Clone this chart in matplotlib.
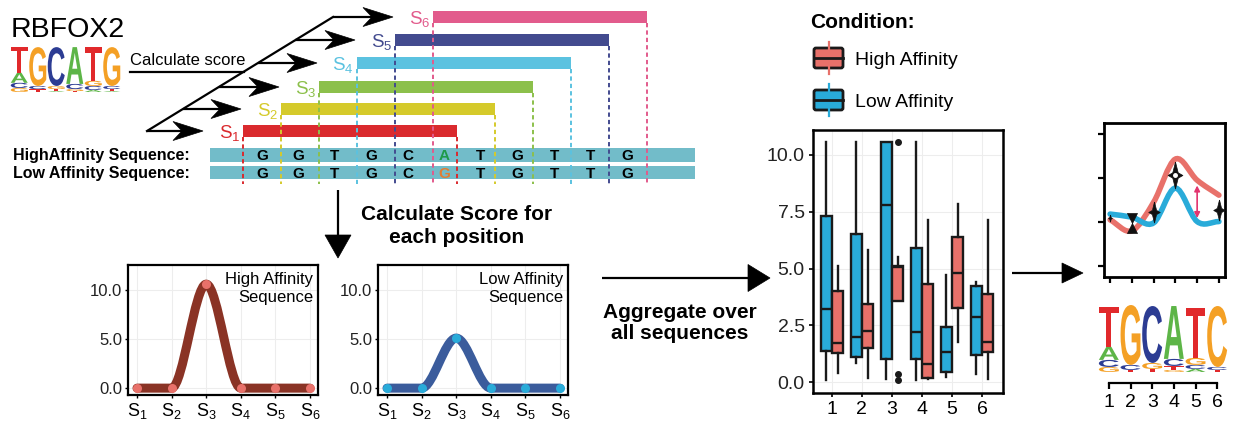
import numpy as np
import matplotlib
matplotlib.use('Agg')
import matplotlib.pyplot as plt
from matplotlib.path import Path
from matplotlib.patches import PathPatch, Rectangle, Polygon, FancyBboxPatch
from matplotlib.textpath import TextPath
from matplotlib.font_manager import FontProperties
from matplotlib.transforms import Affine2D

plt.rcParams['font.family'] = ['Liberation Sans', 'DejaVu Sans']
plt.rcParams['mathtext.fontset'] = 'custom'
plt.rcParams['mathtext.rm'] = 'Liberation Sans'
plt.rcParams['mathtext.it'] = 'Liberation Sans:italic'
plt.rcParams['mathtext.bf'] = 'Liberation Sans:bold'

W, H = 1233, 425

# --- data -------------------------------------------------------------
seq_high = 'GGTGCATGTTG'
seq_low = 'GGTGCGTGTTG'
snp_index = 5
window_names = ['S1', 'S2', 'S3', 'S4', 'S5', 'S6']
window_pos = [1, 2, 3, 4, 5, 6]

# score of each window for one example sequence
high_scores = [0.0, 0.0, 10.6, 0.0, 0.0, 0.0]
low_scores = [0.0, 0.0, 5.1, 0.0, 0.0, 0.0]

# aggregated scores over all sequences (box statistics per window)
groups = [1, 2, 3, 4, 5, 6]
low_whislo = [0.09, 0.85, 0.12, 0.09, 0.21, 0.35]
low_q1 = [1.38, 1.11, 1.03, 1.00, 0.46, 1.19]
low_med = [3.23, 1.97, 7.81, 2.22, 1.34, 2.88]
low_q3 = [7.33, 6.52, 10.57, 5.92, 2.41, 4.25]
low_whishi = [10.55, 10.55, 10.57, 10.55, 4.71, 4.39]
high_whislo = [0.38, 0.16, 3.58, 0.12, 1.78, 0.12]
high_q1 = [1.26, 1.48, 3.58, 0.19, 3.28, 1.31]
high_med = [1.70, 2.23, 5.08, 0.78, 4.82, 1.78]
high_q3 = [4.02, 3.44, 5.12, 4.30, 6.37, 3.86]
high_whishi = [5.12, 5.81, 5.52, 7.14, 7.84, 7.14]
high_fliers = [[], [], [10.57, 0.35, 0.09], [], [], []]

# summary profile along the motif
profile_x = [1, 2, 3, 4, 5, 6]
high_profile = [1.05, 0.80, 1.45, 2.43, 1.95, 1.61]
low_profile = [1.18, 1.11, 0.98, 1.77, 1.01, 1.01]
glyph_x = [1, 2, 3, 4, 6]
glyph_y = [1.09, 0.98, 1.23, 2.07, 1.27]
glyph_px = [7, 20, 21, 27, 21]
glyph_kind = ['star', 'bowtie', 'star', 'star', 'star']

# sequence logos (letters stacked bottom to top, heights in bits)
logo_rbfox2 = [
    [('G', 0.18), ('C', 0.23), ('A', 0.45), ('T', 1.14)],
    [('T', 0.13), ('C', 0.14), ('G', 1.73)],
    [('A', 0.04), ('T', 0.09), ('G', 0.14), ('C', 1.73)],
    [('T', 0.04), ('G', 0.09), ('C', 0.23), ('A', 1.64)],
    [('A', 0.09), ('C', 0.18), ('G', 0.23), ('T', 1.50)],
    [('A', 0.04), ('T', 0.09), ('C', 0.14), ('G', 1.73)],
]
logo_result = [
    [('G', 0.15), ('C', 0.21), ('A', 0.39), ('T', 1.19)],
    [('T', 0.06), ('C', 0.15), ('G', 1.79)],
    [('T', 0.09), ('G', 0.18), ('C', 1.70)],
    [('G', 0.06), ('T', 0.12), ('C', 0.21), ('A', 1.58)],
    [('A', 0.09), ('C', 0.12), ('G', 0.21), ('T', 1.49)],
    [('T', 0.06), ('C', 0.09), ('C', 1.82)],
]
logo_result_recolor = {(5, 2): 'G'}

# --- styles -----------------------------------------------------------
LOGO_COLORS = {'A': '#5DB547', 'C': '#2C3C93', 'G': '#F4A025', 'T': '#E1292B'}
WINDOW_COLORS = ['#DA2A2E', '#D5CA2B', '#8CC04B', '#5BC2E0', '#434B8F', '#E25B8C']
RED = '#E8716A'
BLUE = '#29ABD9'
SEQ_BAR = '#72BCC9'

fig = plt.figure(figsize=(W / 100, H / 100), dpi=100)
bg = fig.add_axes([0, 0, 1, 1])
bg.set_xlim(0, W)
bg.set_ylim(H, 0)
bg.axis('off')


def px_axes(x0, y0, x1, y1):
    return fig.add_axes([x0 / W, 1 - y1 / H, (x1 - x0) / W, (y1 - y0) / H])


def arrow(ax, x0, y0, x1, y1, L, wd, notch=0.0, lw=1.6):
    d = np.array([x1 - x0, y1 - y0], float)
    d /= np.hypot(*d)
    n = np.array([-d[1], d[0]])
    tip = np.array([x1, y1], float)
    back = tip - d * L
    mid = back + d * notch
    ax.plot([x0, mid[0]], [y0, mid[1]], color='black', lw=lw, solid_capstyle='butt')
    ax.add_patch(Polygon([tip, back + n * wd / 2, mid, back - n * wd / 2],
                         closed=True, fc='black', ec='black', lw=0.5))


def smooth_path(xs, ys, slopes):
    verts = [(xs[0], ys[0])]
    codes = [Path.MOVETO]
    for i in range(len(xs) - 1):
        dx = xs[i + 1] - xs[i]
        verts += [(xs[i] + dx / 3, ys[i] + slopes[i] * dx / 3),
                  (xs[i + 1] - dx / 3, ys[i + 1] - slopes[i + 1] * dx / 3),
                  (xs[i + 1], ys[i + 1])]
        codes += [Path.CURVE4] * 3
    return Path(verts, codes)


def catmull_slopes(xs, ys):
    return np.gradient(np.asarray(ys, float), np.asarray(xs, float))


LOGO_FONT = FontProperties(family='Liberation Sans', weight='bold')


def draw_logo(ax, columns, recolor=None):
    recolor = recolor or {}
    for i, col in enumerate(columns):
        base = 0.0
        for j, (letter, h) in enumerate(col):
            tp = TextPath((0, 0), letter, size=1, prop=LOGO_FONT)
            bb = tp.get_extents()
            tr = (Affine2D().translate(-bb.x0, -bb.y0)
                  .scale(0.92 / bb.width, h / bb.height)
                  .translate(i + 1 - 0.46, base))
            c = LOGO_COLORS[recolor.get((i, j), letter)]
            ax.add_patch(PathPatch(tr.transform_path(tp), fc=c, lw=0))
            base += h


# --- top left: motif and sliding windows -------------------------------
bg.text(11, 37, 'RBFOX2', fontsize=20.5, va='baseline')
lg = px_axes(10, 46, 121, 92)
lg.set_xlim(0.5, 6.5)
lg.set_ylim(0, 2.05)
lg.axis('off')
draw_logo(lg, logo_rbfox2)

bg.text(130, 65, 'Calculate score', fontsize=12, va='baseline')
bg.plot([130, 244], [72, 72], color='black', lw=1.6)

diag_x0, diag_y0, diag_x1, diag_y1 = 147, 131, 333, 17
bg.plot([diag_x0, diag_x1], [diag_y0, diag_y1], color='black', lw=1.6)

bar_y = [131, 109, 87, 63, 40, 17]
bar_left = [243, 281, 319, 357, 395, 433]
bar_len = 214
for i in range(6):
    y = bar_y[i]
    xd = diag_x0 + (diag_y0 - y) * (diag_x1 - diag_x0) / (diag_y0 - diag_y1)
    arrow(bg, xd, y, bar_left[i] - 40, y, L=30, wd=19, notch=9)

bg.add_patch(Rectangle((210, 148), 485, 14, color=SEQ_BAR, lw=0))
bg.add_patch(Rectangle((210, 166), 485, 13, color=SEQ_BAR, lw=0))

for i in range(6):
    c = WINDOW_COLORS[i]
    y = bar_y[i]
    bg.add_patch(Rectangle((bar_left[i], y - 6), bar_len, 12, color=c, lw=0, zorder=3))
    for xe in (bar_left[i], bar_left[i] + bar_len):
        bg.plot([xe, xe], [y + 6, 184], color=c, lw=1.4, ls=(0, (2.2, 1.6)), zorder=4)
    bg.text(bar_left[i] - 3, y + 7, r'$\mathrm{S}_{%d}$' % window_pos[i], color=c,
            fontsize=13.5, ha='right', va='baseline')

letter_x = 262 + 36.5 * np.arange(len(seq_high))
for i, (a, b) in enumerate(zip(seq_high, seq_low)):
    ca, cb = 'black', 'black'
    if i == snp_index:
        ca, cb = '#1E9A4A', '#E27D32'
    bg.text(letter_x[i], 160, a, color=ca, fontsize=11, fontweight='bold',
            ha='center', va='baseline', zorder=5)
    bg.text(letter_x[i], 177.5, b, color=cb, fontsize=11, fontweight='bold',
            ha='center', va='baseline', zorder=5)
bg.text(13, 160, 'HighAffinity Sequence:', fontsize=11.5, fontweight='bold', va='baseline')
bg.text(13, 177.5, 'Low Affinity Sequence:', fontsize=11.5, fontweight='bold', va='baseline')

arrow(bg, 338, 190, 338, 258, L=23, wd=26)
bg.text(457, 226, 'Calculate Score for\neach position', fontsize=15, fontweight='bold',
        ha='center', va='center', linespacing=1.25)


# --- score per window for the two example sequences --------------------
def score_panel(box, scores, line_c, point_c, label):
    ax = px_axes(*box)
    ax.set_xlim(0.74, 6.23)
    ax.set_ylim(-0.7, 12.55)
    ax.grid(True, color='#EDEDED', lw=0.8)
    ax.set_axisbelow(True)
    ax.add_patch(PathPatch(smooth_path(window_pos, scores, [0] * 6), fill=False,
                           ec=line_c, lw=6.5, capstyle='round', joinstyle='round'))
    ax.plot(window_pos, scores, 'o', color=point_c, ms=6.5, mec='none')
    ax.set_xticks(window_pos)
    ax.set_xticklabels([r'$\mathrm{S}_{%s}$' % n[1:] for n in window_names], fontsize=13)
    ax.set_yticks([0, 5, 10])
    ax.set_yticklabels(['0.0', '5.0', '10.0'], fontsize=12, color='#222222')
    ax.tick_params(length=2.5, width=1, pad=1.5)
    for sp in ax.spines.values():
        sp.set_linewidth(1.6)
    ax.text(1 - 5 / 190, 1 - 7 / 130, label, transform=ax.transAxes, ha='right',
            va='top', fontsize=12, linespacing=1.25)
    return ax


score_panel((128, 265, 318, 395), high_scores, '#8A3325', RED, 'High Affinity\nSequence')
score_panel((378, 265, 568, 395), low_scores, '#3B5C9C', BLUE, 'Low Affinity\nSequence')

arrow(bg, 602, 278, 770, 278, L=22, wd=27)
bg.text(680, 323, 'Aggregate over\nall sequences', fontsize=15, fontweight='bold',
        ha='center', va='center', linespacing=1.15)

# --- legend -----------------------------------------------------------
bg.text(810, 27.5, 'Condition:', fontsize=15, fontweight='bold', va='baseline')
for yc, c, name in [(58, RED, 'High Affinity'), (100, BLUE, 'Low Affinity')]:
    bg.plot([828.5, 828.5], [yc - 16, yc + 16], color=c, lw=1.6)
    bg.add_patch(FancyBboxPatch((814, yc - 10), 29, 20, boxstyle='round,pad=0,rounding_size=2',
                                fc=c, ec='#1a1a1a', lw=2))
    bg.plot([814, 843], [yc, yc], color='#1a1a1a', lw=2)
    bg.text(855, yc + 7, name, fontsize=14, va='baseline')

# --- aggregated box plots ----------------------------------------------
bx = px_axes(813, 130, 1003, 393)
bx.set_xlim(0.37, 6.7)
bx.set_ylim(-0.48, 11.1)
bx.grid(True, color='#EDEDED', lw=0.8)
bx.set_axisbelow(True)

low_stats = [dict(whislo=low_whislo[i], q1=low_q1[i], med=low_med[i], q3=low_q3[i],
                  whishi=low_whishi[i], fliers=[]) for i in range(6)]
high_stats = [dict(whislo=high_whislo[i], q1=high_q1[i], med=high_med[i], q3=high_q3[i],
                   whishi=high_whishi[i], fliers=high_fliers[i]) for i in range(6)]
for stats, shift, c in [(low_stats, -0.19, BLUE), (high_stats, 0.19, RED)]:
    bx.bxp(stats, positions=np.array(groups) + shift, widths=0.37, patch_artist=True,
           showcaps=False,
           boxprops=dict(facecolor=c, edgecolor='#1a1a1a', lw=1.7),
           whiskerprops=dict(color='#1a1a1a', lw=1.7),
           medianprops=dict(color='#1a1a1a', lw=1.7),
           flierprops=dict(marker='o', mfc='#1a1a1a', mec='#1a1a1a', ms=4))
bx.set_xticks(groups)
bx.set_xticklabels([str(g) for g in groups], fontsize=14)
bx.set_yticks([0, 2.5, 5, 7.5, 10])
bx.set_yticklabels(['0.0', '2.5', '5.0', '7.5', '10.0'], fontsize=14, color='#222222')
bx.tick_params(length=3, width=1.2, pad=3)
for sp in bx.spines.values():
    sp.set_linewidth(1.8)

arrow(bg, 1012, 273, 1083, 273, L=21, wd=20)

# --- summary profile --------------------------------------------------
rp = px_axes(1104, 123, 1225, 277)
rp.set_xlim(0.72, 6.28)
rp.set_ylim(-0.25, 3.25)
rp.add_patch(PathPatch(smooth_path(profile_x, high_profile, catmull_slopes(profile_x, high_profile)),
                       fill=False, ec=RED, lw=4, capstyle='round'))
rp.add_patch(PathPatch(smooth_path(profile_x, low_profile, catmull_slopes(profile_x, low_profile)),
                       fill=False, ec=BLUE, lw=4, capstyle='round'))
star = [(0, 1), (0.2, 0.2), (0.55, 0), (0.2, -0.2), (0, -1), (-0.2, -0.2),
        (-0.55, 0), (-0.2, 0.2), (0, 1)]
bowtie = [(-0.5, 1), (0.5, 1), (0, 0), (0.5, -1), (-0.5, -1), (0, 0), (-0.5, 1)]
for x, y, s, k in zip(glyph_x, glyph_y, glyph_px, glyph_kind):
    rp.plot([x], [y], marker=star if k == 'star' else bowtie, ms=s / 1.389,
            color='#111111', mec='#111111', mew=0.5, zorder=5)
rp.plot([4], [glyph_y[3]], 'o', color='white', ms=2.5, zorder=6)
rp.annotate('', xy=(5, high_profile[4] - 0.12), xytext=(5, low_profile[4] + 0.08),
            arrowprops=dict(arrowstyle='<|-|>', color='#E2356F', lw=1.2,
                            mutation_scale=8, shrinkA=0, shrinkB=0), zorder=5)
rp.set_xticks(profile_x)
rp.set_xticklabels([])
rp.set_yticks([0, 1, 2, 3])
rp.set_yticklabels([])
rp.tick_params(length=4.5, width=1.6)
for sp in rp.spines.values():
    sp.set_linewidth(2)

# --- resulting logo ---------------------------------------------------
lr = px_axes(1098, 300, 1228, 383)
lr.set_xlim(0.5, 6.5)
lr.set_ylim(-0.33, 2.15)
draw_logo(lr, logo_result, logo_result_recolor)
for s in ('top', 'left', 'right'):
    lr.spines[s].set_visible(False)
lr.spines['bottom'].set_bounds(1, 6)
lr.spines['bottom'].set_linewidth(1.6)
lr.set_yticks([])
lr.set_xticks(groups)
lr.set_xticklabels([str(g) for g in groups], fontsize=14)
lr.tick_params(axis='x', length=4, width=1.6, pad=4)
lr.patch.set_alpha(0)

fig.savefig('out.png', dpi=100)
